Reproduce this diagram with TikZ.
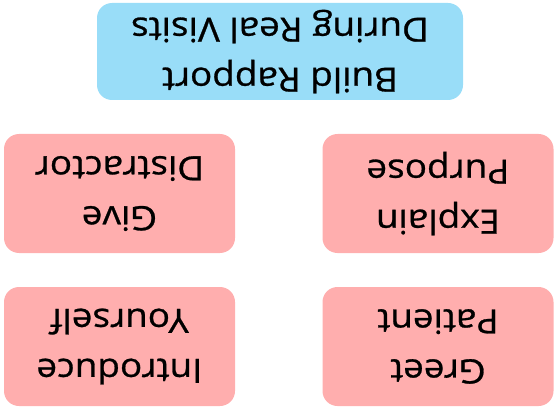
\documentclass[tikz,border=0pt]{standalone}
\usepackage{fontspec}
\setmainfont[FakeStretch=1.1,FakeBold=0.8]{Open Sans}
\definecolor{boxblue}{RGB}{153,221,248}
\definecolor{boxred}{RGB}{255,174,174}
\begin{document}
\begin{tikzpicture}[x=1pt,y=-1pt,
  card/.style={rounded corners=15pt, inner sep=0pt, align=center, rotate=180,
    font=\fontsize{33.5}{50}\selectfont, text=black},
  blue card/.style={card, fill=boxblue, minimum width=366pt, minimum height=97pt},
  red card/.style={card, fill=boxred, minimum width=231pt, minimum height=119pt}]
\useasboundingbox (0,0) rectangle (554,409);
\node[blue card] (rapport) at (280,51.5) {Build Rapport\\During Real Visits};
\node[red card] (distractor) at (119.5,193.5) {Give\\Distractor};
\node[red card] (purpose) at (438,193.5) {Explain\\Purpose};
\node[red card] (introduce) at (119.5,346.5) {Introduce\\Yourself};
\node[red card] (greet) at (438,346.5) {Greet\\Patient};
\end{tikzpicture}
\end{document}
